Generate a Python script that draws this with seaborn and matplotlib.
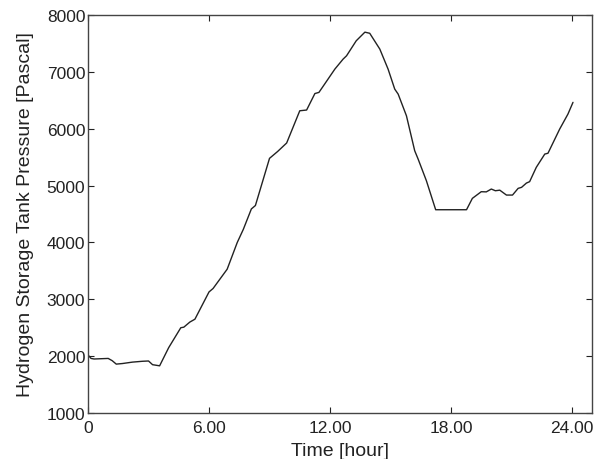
import matplotlib
matplotlib.use("Agg")
import matplotlib.pyplot as plt
import seaborn as sns
import pandas as pd

hours = [0.0, 0.15, 0.3, 1.0, 1.2, 1.4, 1.7, 2.2, 2.7, 3.0, 3.2, 3.55,
         4.0, 4.6, 4.75, 5.05, 5.3, 6.0, 6.2, 6.9, 7.4, 7.7, 8.1, 8.3, 9.0,
         9.4, 9.85, 10.5, 10.84, 11.25, 11.45, 11.74, 12.24, 12.65, 12.82,
         13.3, 13.73, 13.97, 14.47, 14.88, 15.21, 15.38, 15.79, 16.2, 16.37,
         16.78, 17.24, 18.77, 19.06, 19.5, 19.75, 20.0, 20.2, 20.42, 20.75,
         21.05, 21.33, 21.5, 21.74, 21.9, 22.23, 22.65, 22.81, 23.39, 23.8, 24.05]
pressure = [2020, 1960, 1950, 1960, 1920, 1860, 1870, 1895, 1910, 1915, 1850, 1830,
            2150, 2500, 2510, 2600, 2650, 3130, 3190, 3530, 4000, 4230, 4590, 4650, 5480,
            5600, 5750, 6317, 6330, 6620, 6640, 6790, 7050, 7226, 7284,
            7548, 7700, 7680, 7402, 7050, 6698, 6610, 6229, 5614, 5467,
            5086, 4576, 4576, 4776, 4893, 4890, 4940, 4910, 4920, 4834,
            4834, 4952, 4970, 5045, 5070, 5322, 5555, 5570, 5995, 6259, 6465]

xticks = [0, 6, 12, 18, 24]
xticklabels = ["0", "6.00", "12.00", "18.00", "24.00"]
yticks = [1000, 2000, 3000, 4000, 5000, 6000, 7000, 8000]

df = pd.DataFrame({"hour": hours, "pressure": pressure})

sns.set_style("ticks")
plt.rcParams["font.family"] = ["Liberation Sans", "DejaVu Sans"]

fig = plt.figure(figsize=(6.03, 4.6), dpi=100)
ax = fig.add_axes([0.146, 0.1, 0.836, 0.865])
sns.lineplot(data=df, x="hour", y="pressure", ax=ax, color="#222222", linewidth=1.0)

ax.set_xlim(0, 25)
ax.set_ylim(1000, 8000)
ax.set_xticks(xticks)
ax.set_xticklabels(xticklabels)
ax.set_yticks(yticks)
ax.tick_params(direction="in", top=True, right=True, length=4, width=0.8,
               labelsize=12.5, colors="#222222")
ax.tick_params(axis="x", pad=5)
ax.tick_params(axis="y", pad=2)
for s in ax.spines.values():
    s.set_color("#444444")
    s.set_linewidth(1.0)
ax.set_xlabel("Time [hour]", fontsize=14, labelpad=5, color="#222222")
ax.set_ylabel("Hydrogen Storage Tank Pressure [Pascal]", fontsize=14, labelpad=9, color="#222222")

fig.savefig("out.png", dpi=100)
